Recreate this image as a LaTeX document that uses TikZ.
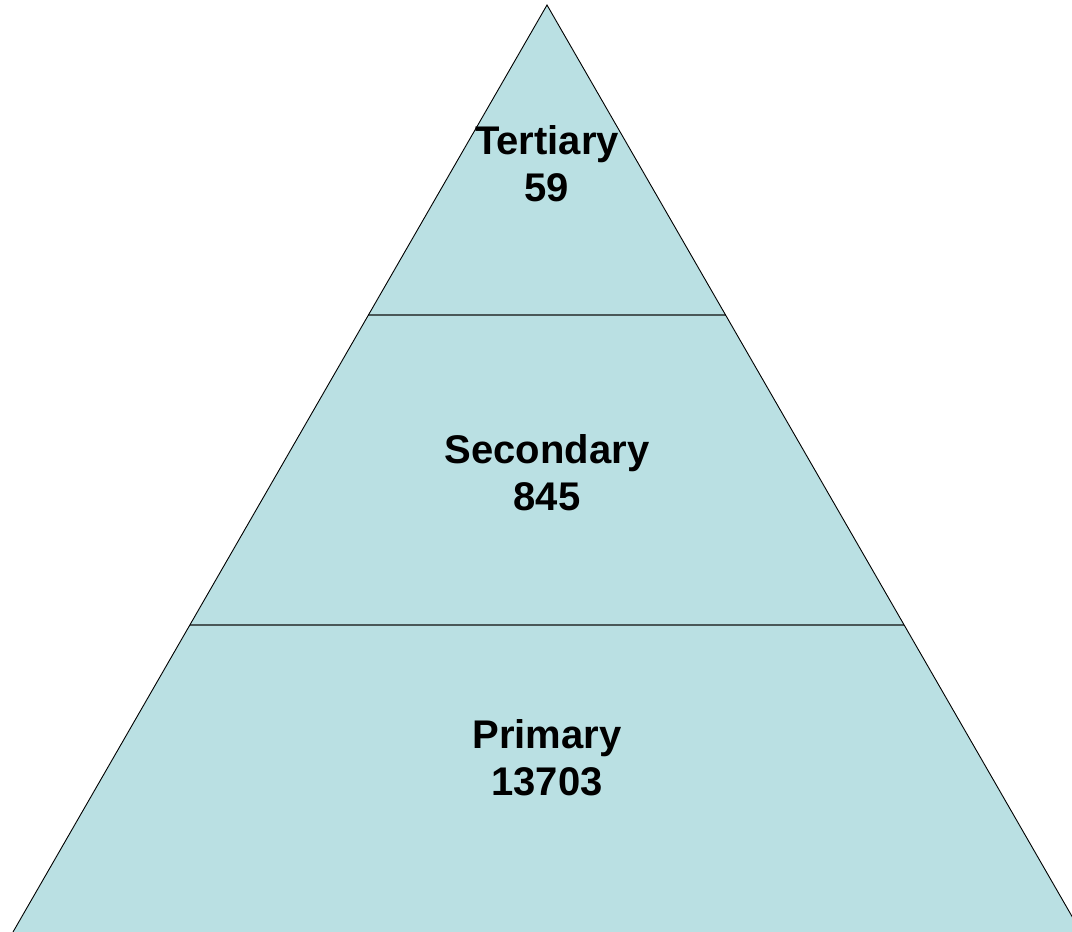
\documentclass[tikz,border=0pt]{standalone}
\usepackage{fontspec}
\setmainfont{Liberation Sans}
\begin{document}
\begin{tikzpicture}[x=1pt,y=-1pt,
  edge/.style={draw=black,line width=0.9pt},
  sep/.style={draw=sepgray,line width=1.3pt},
  lbl/.style={font=\fontsize{40}{47}\selectfont\bfseries,align=center,text=black,inner sep=0pt}]
\definecolor{pyrfill}{HTML}{BAE0E3}
\definecolor{sepgray}{HTML}{4A5858}
\useasboundingbox (0,0) rectangle (1072,932);
\clip (0,0) rectangle (1072,932);
\coordinate (apex) at (547,5);
\coordinate (bl) at (13,932);
\coordinate (br) at (1081,932);
\fill[pyrfill] (apex) -- (bl) -- (br) -- cycle;
\path (apex) -- (bl) coordinate[pos=0.33441] (s1l) coordinate[pos=0.66883] (s2l);
\path (apex) -- (br) coordinate[pos=0.33441] (s1r) coordinate[pos=0.66883] (s2r);
\draw[sep] (s1l) -- (s1r);
\draw[sep] (s2l) -- (s2r);
\draw[edge] (bl) -- (apex) -- (br);
\node[lbl] (tert) at (547,164) {Tertiary\\59};
\node[lbl] (sec) at (547,473) {Secondary\\845};
\node[lbl] (prim) at (547,758) {Primary\\13703};
\end{tikzpicture}
\end{document}
